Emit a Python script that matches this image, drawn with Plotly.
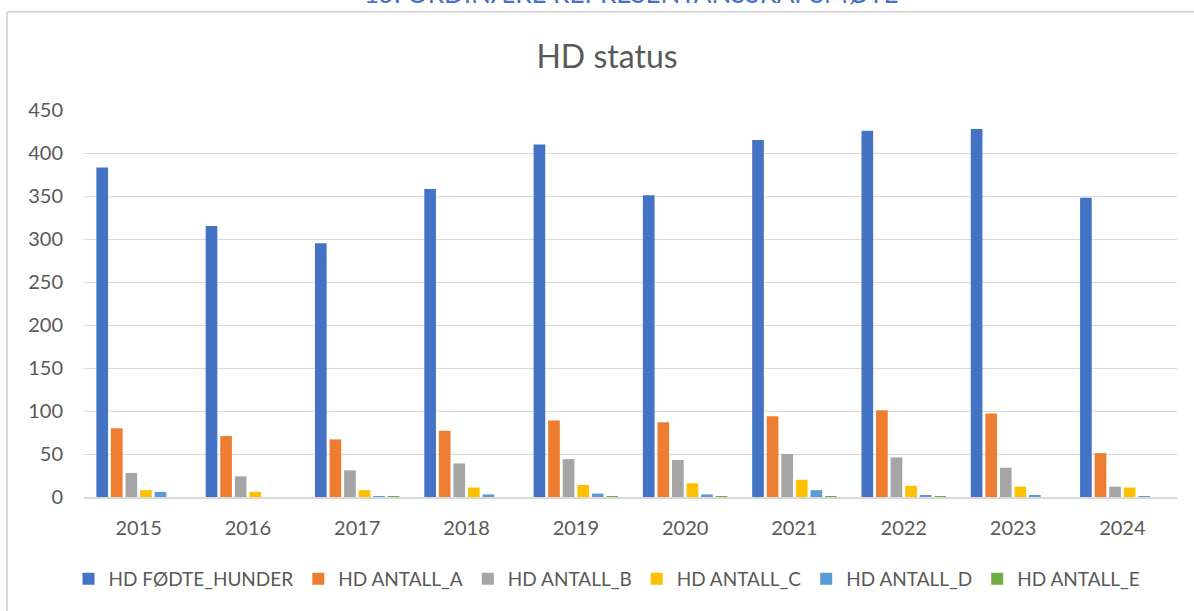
import plotly.graph_objects as go

years = ["2015", "2016", "2017", "2018", "2019", "2020", "2021", "2022", "2023", "2024"]
series_names = ["HD FØDTE_HUNDER", "HD ANTALL_A", "HD ANTALL_B", "HD ANTALL_C", "HD ANTALL_D", "HD ANTALL_E"]
fodte = [383, 315, 295, 358, 410, 351, 415, 426, 428, 348]
antall_a = [80, 71, 67, 77, 89, 87, 94, 101, 97, 51]
antall_b = [28, 24, 31, 39, 44, 43, 50, 46, 34, 12]
antall_c = [8, 6, 8, 11, 14, 16, 20, 13, 12, 11]
antall_d = [6, 0, 1, 3, 4, 3, 8, 2, 2, 1]
antall_e = [0, 0, 1, 0, 1, 1, 1, 1, 0, 0]
colors = ["#4472C4", "#ED7D31", "#A5A5A5", "#FFC000", "#5B9BD5", "#70AD47"]
y_ticks = [0, 50, 100, 150, 200, 250, 300, 350, 400, 450]

W, H = 1194, 611
L, R, T, B = 84, 17, 109.5, 114
pw, ph = W - L - R, H - T - B


def px_x(x):
    return (x - L) / pw


def px_y(y):
    return (H - B - y) / ph


fig = go.Figure()
for name, vals, col in zip(series_names, [fodte, antall_a, antall_b, antall_c, antall_d, antall_e], colors):
    fig.add_trace(go.Bar(x=years, y=vals, name=name, marker=dict(color=col, line=dict(width=0))))

font_family = "Lato, 'Open Sans', sans-serif"
fig.update_layout(
    width=W, height=H,
    margin=dict(l=L, r=R, t=T, b=B, autoexpand=False),
    paper_bgcolor="white", plot_bgcolor="white",
    barmode="group", bargap=0.2, bargroupgap=0.2,
    title=dict(text="HD status", xref="container", x=607 / W, xanchor="center", y=1 - 57 / H, yanchor="middle",
               font=dict(family=font_family, size=32, color="#595959")),
    font=dict(family=font_family, color="#595959"),
    showlegend=True,
    legend=dict(orientation="h", x=px_x(607), xanchor="center", y=px_y(579), yanchor="middle",
                font=dict(family=font_family, size=19, color="#595959"),
                itemwidth=30, traceorder="normal"),
    xaxis=dict(showgrid=False, showline=True, linecolor="#D9D9D9", linewidth=1.5,
               ticks="", tickfont=dict(size=20, color="#595959"), ticklabelstandoff=12),
    yaxis=dict(range=[0, 450], tickvals=y_ticks, showgrid=True, gridcolor="#D9D9D9", gridwidth=1,
               zeroline=False, showline=False, ticks="", tickfont=dict(size=20, color="#595959"),
               ticklabelstandoff=20),
)

frame = dict(color="#D9D9D9", width=2)
fig.add_shape(type="line", xref="paper", yref="paper", x0=px_x(7), x1=px_x(W + 5), y0=px_y(11), y1=px_y(11), line=frame)
fig.add_shape(type="line", xref="paper", yref="paper", x0=px_x(7), x1=px_x(7), y0=px_y(11), y1=px_y(H + 5), line=frame)

fig.add_annotation(text="15. ORDINÆRE REPRESENTANSSKAPSMØTE", xref="paper", yref="paper",
                   x=px_x(631), xanchor="center", y=px_y(10), yanchor="bottom", showarrow=False,
                   font=dict(family=font_family, size=26, color="#4472C4"))

fig.write_html("out.html", config={"displayModeBar": False},
               post_script="document.body.style.margin='0';document.body.style.overflow='hidden';")
